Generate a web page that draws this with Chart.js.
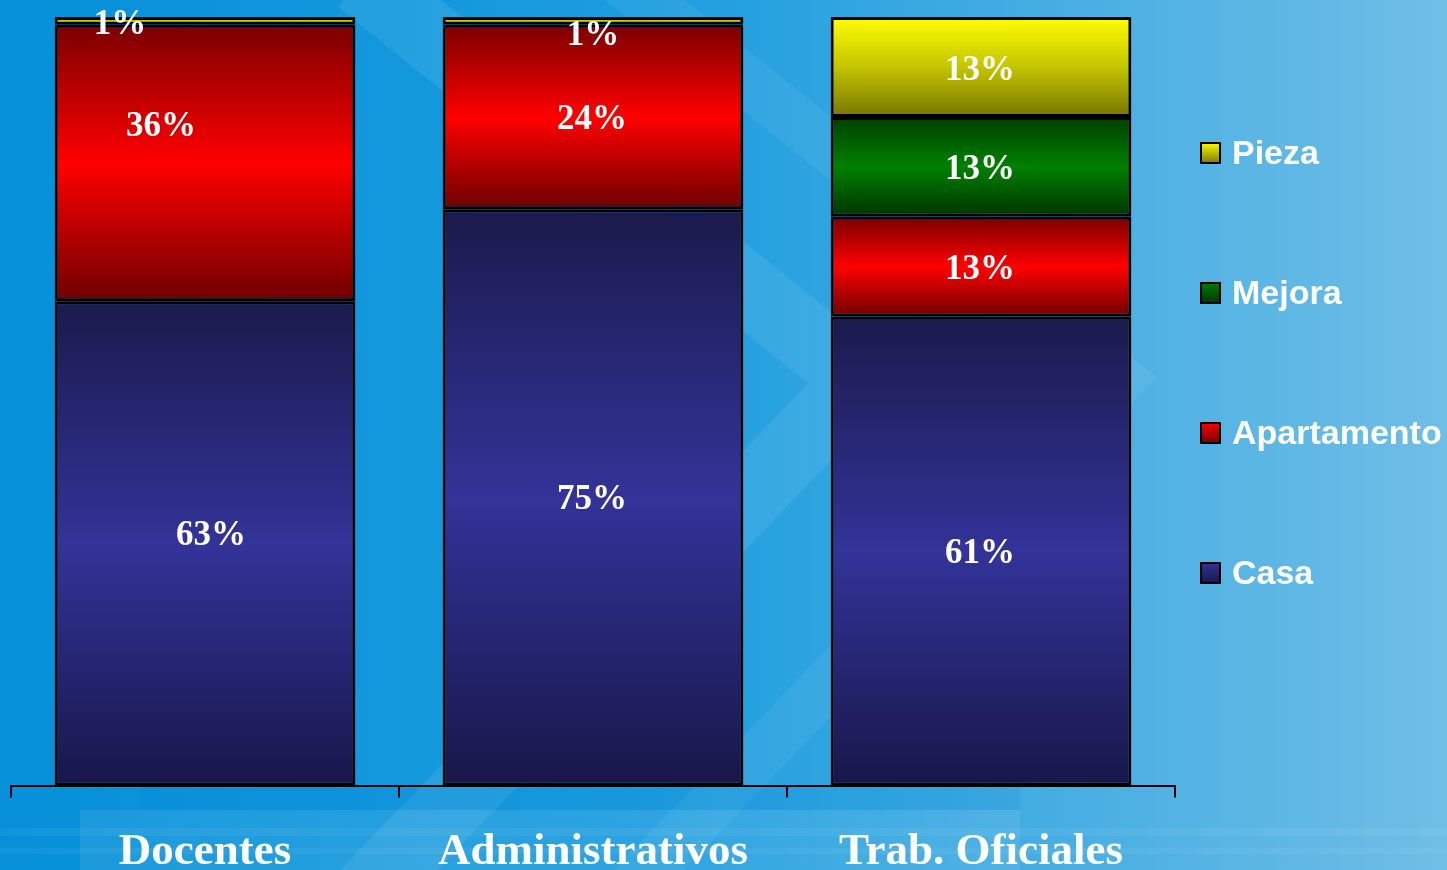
<!DOCTYPE html>
<html>
<head>
<meta charset="utf-8">
<script src="https://cdn.jsdelivr.net/npm/chart.js@4.4.1/dist/chart.umd.min.js"></script>
<style>
  html, body { margin: 0; padding: 0; overflow: hidden; }
  #wrap { width: 1447px; height: 870px; }
</style>
</head>
<body>
<div id="wrap"><canvas id="myChart"></canvas></div>
<script>
// datos
var categorias = ['Docentes', 'Administrativos', 'Trab. Oficiales'];
var casa = [63, 75, 61];
var apartamento = [36, 24, 13];
var mejora = [0, 0, 13];
var pieza = [1, 1, 13];
var series = ['Casa', 'Apartamento', 'Mejora', 'Pieza'];

// small nudges for the value labels (dx, dy) as in the original slide
var labelNudge = [
  [[6, -7], [-1, 3], [-1, 3]],
  [[-44, -36], [-1, 3], [-1, 3]],
  [[0, 0], [0, 0], [-1, 3]],
  [[-85, 4], [0, 15], [-1, 4]]
];

// gradient stops per serie (top, middle, bottom)
var stops = [
  ['#1a1a4c', '#333399', '#17174a'],
  ['#7a0000', '#ff0000', '#6e0000'],
  ['#003f00', '#008000', '#003300'],
  ['#ffff00', '#c4c400', '#767600']
];

var allData = [casa, apartamento, mejora, pieza];

function segGradient(context) {
  var chart = context.chart;
  var y = chart.scales.y;
  if (!chart.chartArea || !y) return stops[context.datasetIndex][1];
  var ds = context.datasetIndex, i = context.dataIndex;
  var start = 0;
  for (var k = 0; k < ds; k++) start += allData[k][i];
  var end = start + allData[ds][i];
  var top = y.getPixelForValue(end), bot = y.getPixelForValue(start);
  if (bot - top < 1) bot = top + 1;
  var g = chart.ctx.createLinearGradient(0, top, 0, bot);
  g.addColorStop(0, stops[ds][0]);
  g.addColorStop(0.5, stops[ds][1]);
  g.addColorStop(1, stops[ds][2]);
  return g;
}

var fondo = {
  id: 'fondo',
  beforeDraw: function(chart) {
    var c = chart.ctx, w = chart.width, h = chart.height;
    c.save();
    var g = c.createLinearGradient(0, 0, w, 0);
    g.addColorStop(0, '#0590d9');
    g.addColorStop(0.45, '#1c9ddf');
    g.addColorStop(1, '#6fbee6');
    c.fillStyle = g;
    c.fillRect(0, 0, w, h);
    // chevrons claros
    c.strokeStyle = 'rgba(255,255,255,0.08)';
    c.lineWidth = 70;
    c.beginPath();
    c.moveTo(360, -20); c.lineTo(860, 380); c.lineTo(360, 900);
    c.stroke();
    c.lineWidth = 50;
    c.strokeStyle = 'rgba(255,255,255,0.06)';
    c.beginPath();
    c.moveTo(620, -20); c.lineTo(1120, 380); c.lineTo(620, 900);
    c.stroke();
    // bandas inferiores
    c.fillStyle = 'rgba(0,120,210,0.12)';
    c.fillRect(140, 787, 880, 23);
    c.fillStyle = 'rgba(255,255,255,0.08)';
    c.fillRect(80, 810, 940, 60);
    c.fillStyle = 'rgba(255,255,255,0.05)';
    c.fillRect(0, 828, w, 8);
    c.fillRect(0, 848, w, 6);
    c.restore();
  }
};

var etiquetas = {
  id: 'etiquetas',
  afterDatasetsDraw: function(chart) {
    var c = chart.ctx;
    c.save();
    c.fillStyle = '#ffffff';
    c.font = 'bold 35px "Liberation Serif", "Times New Roman", serif';
    c.textAlign = 'center';
    c.textBaseline = 'middle';
    chart.data.datasets.forEach(function(ds, d) {
      var meta = chart.getDatasetMeta(d);
      meta.data.forEach(function(el, i) {
        var v = ds.data[i];
        if (!v) return;
        var p = el.getCenterPoint();
        var n = labelNudge[d][i];
        c.fillText(v + '%', p.x + n[0], p.y + n[1]);
      });
    });
    c.restore();
  }
};

var leyenda = {
  id: 'leyenda',
  afterDraw: function(chart) {
    var c = chart.ctx;
    var x = chart.chartArea.right + 25;
    c.save();
    c.font = 'bold 34px "Liberation Sans", Arial, sans-serif';
    c.textBaseline = 'middle';
    c.textAlign = 'left';
    for (var k = series.length - 1; k >= 0; k--) {
      var row = series.length - 1 - k;
      var yc = 153 + row * 140;
      var g = c.createLinearGradient(0, yc - 11, 0, yc + 11);
      g.addColorStop(0, stops[k][0] === '#ffff00' ? '#ffff00' : stops[k][1]);
      g.addColorStop(1, stops[k][2]);
      c.fillStyle = g;
      c.fillRect(x, yc - 11, 21, 22);
      c.lineWidth = 2;
      c.strokeStyle = '#000000';
      c.strokeRect(x + 1, yc - 10, 19, 20);
      c.fillStyle = '#ffffff';
      c.fillText(series[k], x + 32, yc + 2);
    }
    c.restore();
  }
};

var datasets = [casa, apartamento, mejora, pieza].map(function(arr, k) {
  return {
    label: series[k],
    data: arr,
    backgroundColor: segGradient,
    borderColor: '#000000',
    borderWidth: 3,
    borderSkipped: false,
    barPercentage: 0.775,
    categoryPercentage: 1
  };
});

var ctx = document.getElementById('myChart');
var barGraph = new Chart(ctx, {
  type: 'bar',
  data: { labels: categorias, datasets: datasets },
  options: {
    responsive: true,
    maintainAspectRatio: false,
    animation: false,
    layout: { padding: { top: 17, left: 11, right: 272, bottom: -38 } },
    plugins: {
      legend: { display: false },
      tooltip: { enabled: false }
    },
    scales: {
      x: {
        stacked: true,
        grid: {
          offset: true,
          drawOnChartArea: false,
          drawTicks: true,
          tickLength: 12,
          color: '#000000',
          lineWidth: 2
        },
        border: { display: true, color: '#000000', width: 2 },
        ticks: {
          color: '#ffffff',
          padding: 35,
          font: { family: '"Liberation Serif", "Times New Roman", serif', size: 45, weight: 'bold', lineHeight: 0.9 }
        }
      },
      y: {
        stacked: true,
        display: false,
        min: 0,
        max: 100
      }
    }
  },
  plugins: [fondo, etiquetas, leyenda]
});
</script>
</body>
</html>
